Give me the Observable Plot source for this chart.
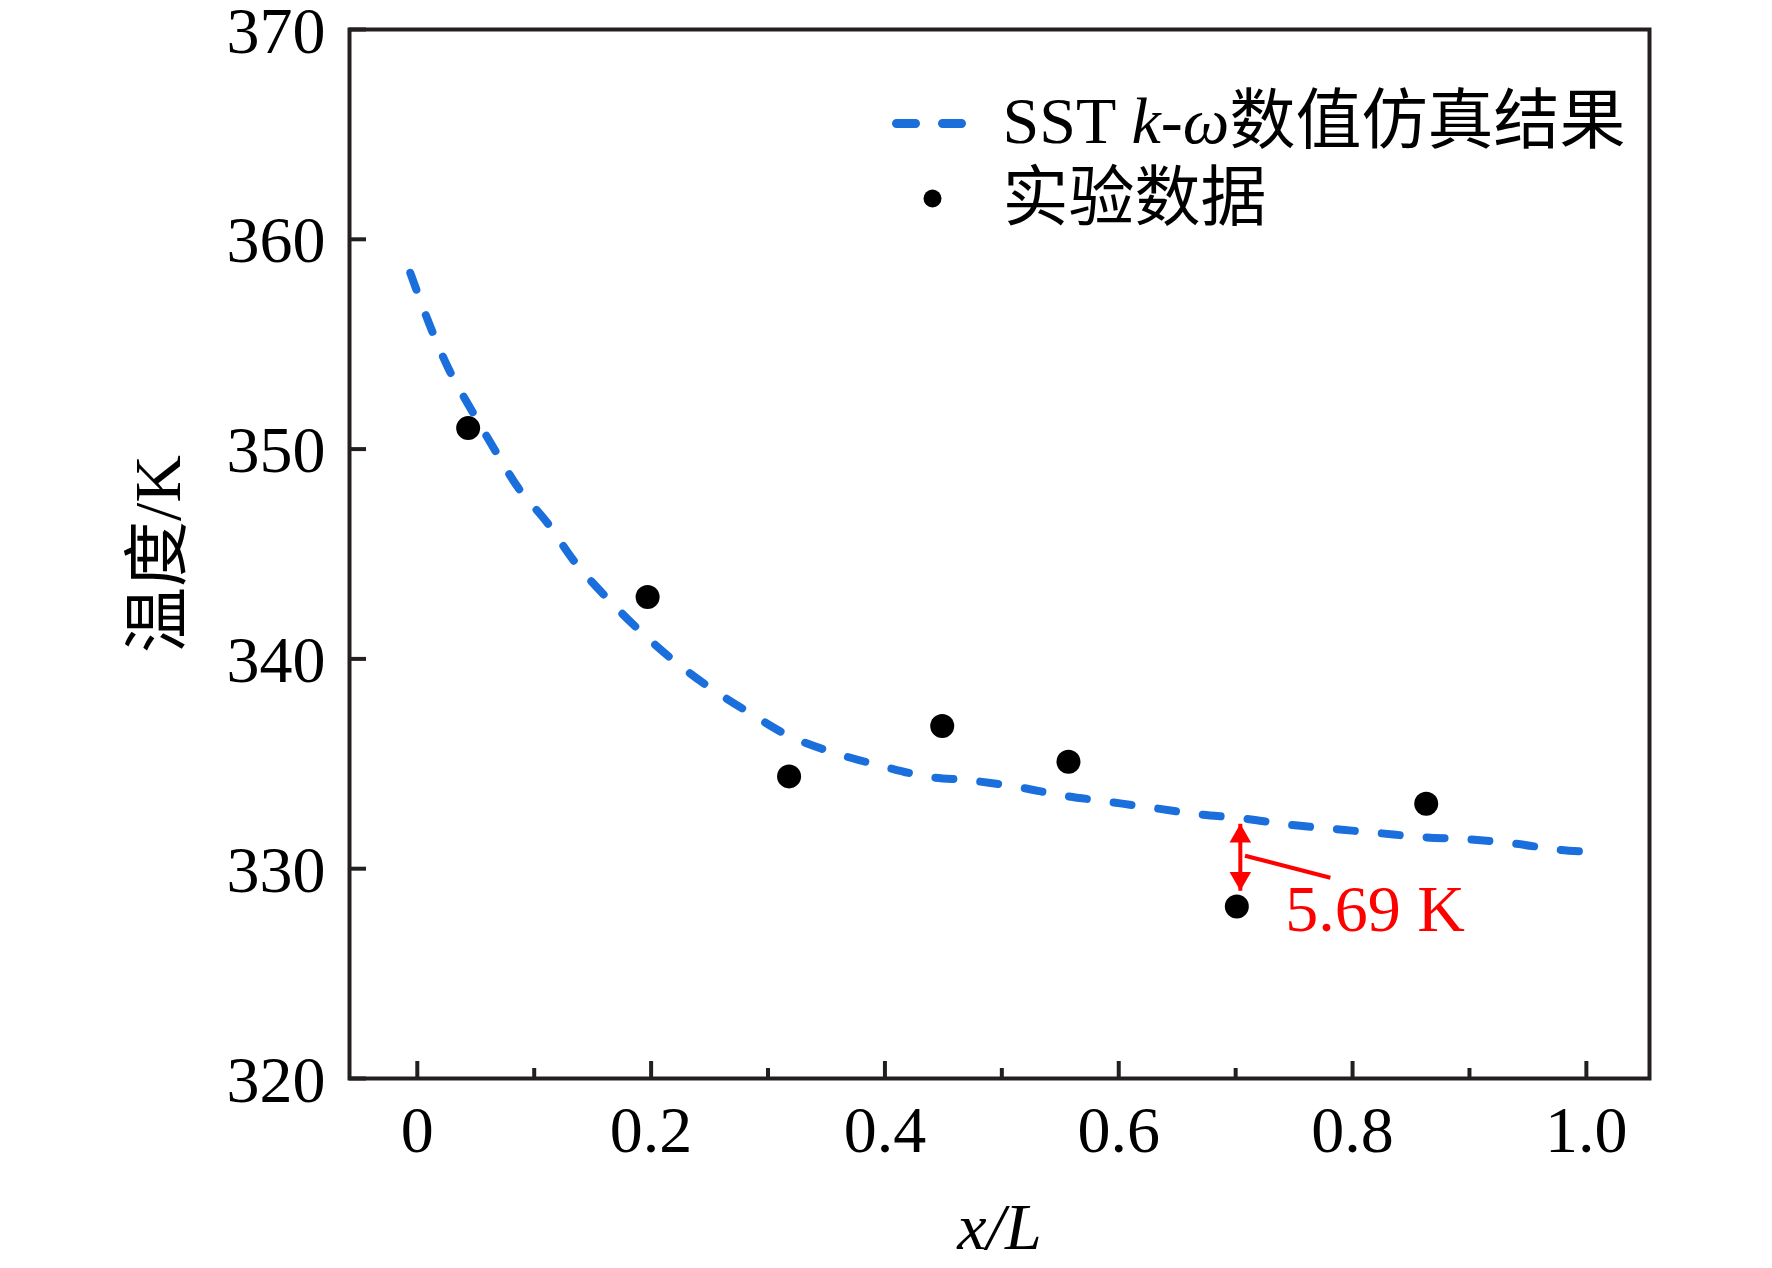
<!DOCTYPE html>
<html><head><meta charset="utf-8">
<script src="https://cdn.jsdelivr.net/npm/d3@7"></script>
<script src="https://cdn.jsdelivr.net/npm/@observablehq/plot@0.6"></script>
<style>
html,body{margin:0;padding:0;background:#fff;}
svg{overflow:visible;}
</style>
</head><body><div id="chart"></div>
<script>
// Simulation curve (SST k-ω)
const simX = [-0.006, 0.010, 0.027, 0.048, 0.068, 0.087, 0.111, 0.135, 0.164, 0.193, 0.222, 0.251, 0.285, 0.319, 0.358, 0.397, 0.435, 0.474, 0.513, 0.551, 0.590, 0.629, 0.667, 0.706, 0.745, 0.783, 0.822, 0.861, 0.899, 0.938, 0.977, 1.004];
const simY = [358.4, 356.0, 353.8, 351.7, 349.8, 348.1, 346.5, 344.6, 342.8, 341.2, 339.8, 338.6, 337.4, 336.3, 335.5, 334.9, 334.4, 334.2, 333.9, 333.5, 333.2, 332.9, 332.6, 332.4, 332.1, 331.9, 331.7, 331.5, 331.4, 331.2, 330.9, 330.8];
// Experimental data
const expX = [0.0435, 0.197, 0.318, 0.449, 0.557, 0.701, 0.863];
const expY = [351.0, 342.95, 334.4, 336.8, 335.1, 328.2, 333.1];
// Ticks
const xMajorTicks = [0, 0.2, 0.4, 0.6, 0.8, 1.0];
const xTickLabels = ["0", "0.2", "0.4", "0.6", "0.8", "1.0"];
const xMinorTicks = [0.1, 0.3, 0.5, 0.7, 0.9];
const yTicks = [320, 330, 340, 350, 360, 370];
// Labels
const xTitle = "x/L";
const yTitle = "温度/K";
const legendLabels = ["SST k-ω数值仿真结果", "实验数据"];
// Annotation (difference at x/L≈0.7)
const diffX = [0.704, 0.704];
const diffY = [332.14, 328.95];
const leaderX = [0.708, 0.781];
const leaderY = [330.62, 329.57];
const diffText = ["5.69 K"];
const diffTextX = [0.7425];
const diffTextY = [327.05];

const FONT = "'Liberation Serif', 'Noto Sans CJK SC', serif";
const INK = "#231f20";
const BLUE = "#1a6fdc";
const RED = "#ff0000";

const sim = simX.map((x, i) => ({x, y: simY[i]}));
const exp = expX.map((x, i) => ({x, y: expY[i]}));
const lineShape = {draw(context, l) { context.moveTo(0, 0); context.lineTo(l, 0); }};

const chart = Plot.plot({
  width: 1772, height: 1268,
  marginLeft: 349, marginRight: 123, marginTop: 29, marginBottom: 190,
  x: {domain: [-0.058, 1.054]},
  y: {domain: [320, 370]},
  style: {fontFamily: FONT, fontSize: "66px", color: INK, background: "#fff", overflow: "visible"},
  marks: [
    Plot.line(sim, {x: "x", y: "y", curve: "catmull-rom", stroke: BLUE, strokeWidth: 8, strokeDasharray: "18,27", strokeLinecap: "round"}),
    Plot.dot(exp, {x: "x", y: "y", r: 12, fill: "#000"}),
    // annotation
    Plot.link([0], {x1: () => diffX[0], x2: () => diffX[1], y1: () => diffY[0], y2: () => diffY[1], stroke: RED, strokeWidth: 4}),
    Plot.dot([0], {x: () => diffX[0], y: () => diffY[0], symbol: "triangle", r: 8, dy: 12.4, fill: RED}),
    Plot.dot([0], {x: () => diffX[1], y: () => diffY[1], symbol: "triangle", r: 8, dy: -12.4, rotate: 180, fill: RED}),
    Plot.link([0], {x1: () => leaderX[0], x2: () => leaderX[1], y1: () => leaderY[0], y2: () => leaderY[1], stroke: RED, strokeWidth: 4}),
    Plot.text(diffText, {x: () => diffTextX[0], y: () => diffTextY[0], text: d => d, textAnchor: "start", lineAnchor: "bottom", fill: RED, fontSize: 66}),
    // frame and axes
    Plot.frame({stroke: INK, strokeWidth: 4}),
    Plot.axisX(xMajorTicks, {tickSize: -17, tickFormat: () => "", strokeWidth: 4, stroke: INK, label: null}),
    Plot.axisX(xMinorTicks, {tickSize: -10, tickFormat: () => "", strokeWidth: 4, stroke: INK, label: null}),
    Plot.axisX(xMajorTicks, {tickSize: 0, tickPadding: 27, fontSize: 66, fill: "#000", tickFormat: d => xTickLabels[xMajorTicks.indexOf(d)], label: null}),
    Plot.axisY(yTicks, {tickSize: -17, tickFormat: () => "", strokeWidth: 4, stroke: INK, label: null}),
    Plot.axisY(yTicks, {tickSize: 0, tickPadding: 24, dy: 2, fontSize: 66, fill: "#000", tickFormat: d => String(d), label: null}),
    Plot.text([xTitle], {text: d => d, frameAnchor: "bottom", dy: 170, lineAnchor: "bottom", fontStyle: "italic", fontSize: 66, fill: "#000"}),
    Plot.text([yTitle], {text: d => d, frameAnchor: "left", dx: -191, rotate: -90, lineAnchor: "middle", textAnchor: "middle", fontSize: 66, fill: "#000"}),
    // legend
    Plot.vector([0], {frameAnchor: "top-right", dx: -753, dy: 94, length: 65, anchor: "start", shape: lineShape, stroke: BLUE, strokeWidth: 9, strokeDasharray: "19,27", strokeLinecap: "round"}),
    Plot.dot([0], {frameAnchor: "top-right", dx: -717, dy: 169, r: 9, fill: "#000"}),
    Plot.text([legendLabels[0]], {text: d => d, frameAnchor: "top-right", dx: -647, dy: 113, textAnchor: "start", lineAnchor: "bottom", fontSize: 66, fill: "#000"}),
    Plot.text([legendLabels[1]], {text: d => d, frameAnchor: "top-right", dx: -647, dy: 190, textAnchor: "start", lineAnchor: "bottom", fontSize: 66, fill: "#000"})
  ]
});

// Italicize k-ω within the legend label
chart.querySelectorAll("text").forEach(t => {
  if (t.textContent === legendLabels[0]) {
    const parts = [["SST ", "normal"], ["k-ω", "italic"], ["数值仿真结果", "normal"]];
    t.textContent = "";
    parts.forEach(([s, st]) => {
      const ts = document.createElementNS("http://www.w3.org/2000/svg", "tspan");
      ts.textContent = s;
      ts.setAttribute("font-style", st);
      t.appendChild(ts);
    });
  }
});
document.getElementById("chart").appendChild(chart);
</script>
</body></html>
